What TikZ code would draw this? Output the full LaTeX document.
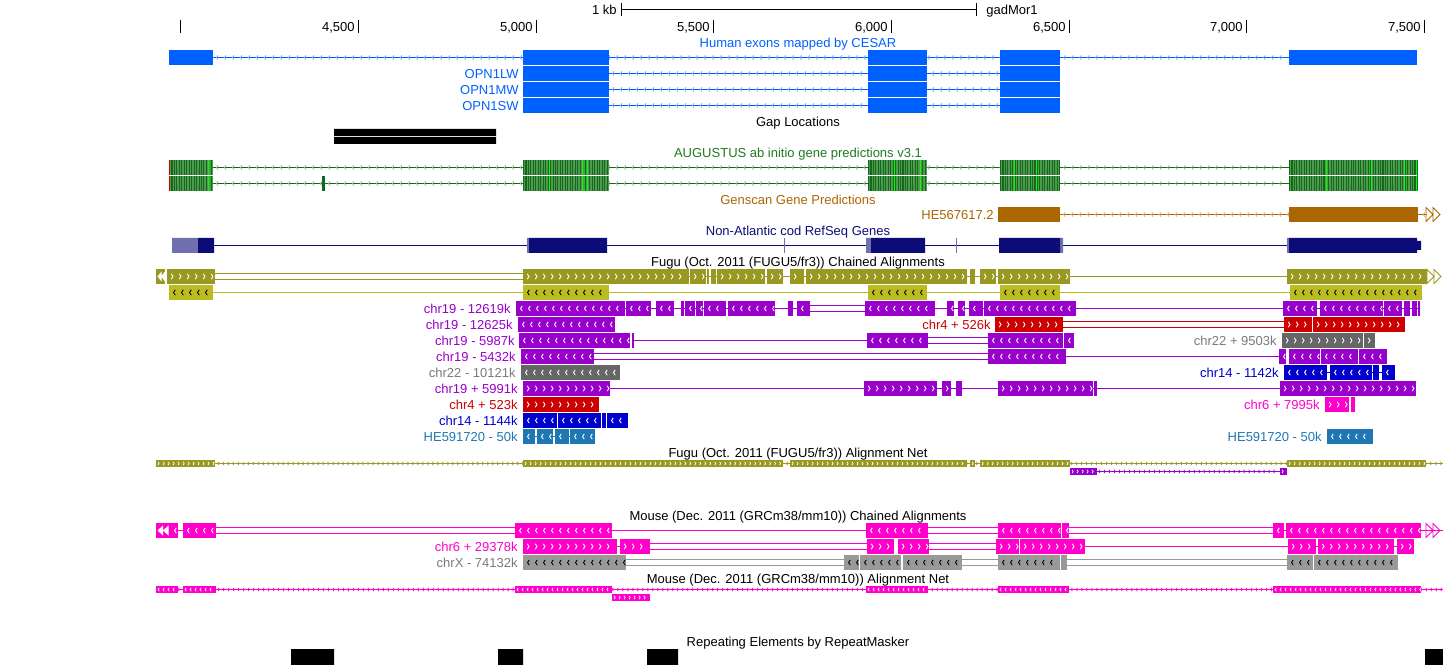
\documentclass[tikz,border=0pt]{standalone}
\usepackage{fontspec}
\setmainfont{Liberation Sans}
\usetikzlibrary{decorations.markings}

\definecolor{KCesar}{HTML}{005FFF}
\definecolor{KCesarLt}{HTML}{7FA8FF}
\definecolor{KAugDark}{HTML}{12691A}
\definecolor{KAugMid}{HTML}{4F9A4F}
\definecolor{KAugHi}{HTML}{00FF00}
\definecolor{KAugLt}{HTML}{8CBF8C}
\definecolor{KAugText}{HTML}{1E7A1E}
\definecolor{KGenscan}{HTML}{AA6600}
\definecolor{KGenscanLt}{HTML}{D9AE74}
\definecolor{KRefSeq}{HTML}{0C0C78}
\definecolor{KRefLilac}{HTML}{7070B0}
\definecolor{KFugu}{HTML}{999922}
\definecolor{KFuguLt}{HTML}{BBBB22}
\definecolor{KPurple}{HTML}{9900CC}
\definecolor{KRed}{HTML}{CC0000}
\definecolor{KGrey}{HTML}{666666}
\definecolor{KGreyLt}{HTML}{999999}
\definecolor{KGreyText}{HTML}{7A7A7A}
\definecolor{KNavy}{HTML}{0000CC}
\definecolor{KMagenta}{HTML}{FF00CC}
\definecolor{KSteel}{HTML}{1F77B4}

\tikzset{
  txt/.style={font=\fontsize{7.4}{8.5}\selectfont,inner sep=0pt,yshift=-2.6pt},
  trk/.style={txt,anchor=base},
  nm/.style={txt,anchor=base east},
  ln/.style={line width=0.55pt},
  inL/.style={postaction={decorate},decoration={markings,
    mark=between positions 2.6pt and -1pt step 4.55pt with
    {\draw[#1,line width=0.5pt] (0.95pt,1.5pt) -- (0,0) -- (0.95pt,-1.5pt);}}},
  inR/.style={postaction={decorate},decoration={markings,
    mark=between positions 3.4pt and -0.3pt step 4.55pt with
    {\draw[#1,line width=0.5pt] (-0.95pt,1.5pt) -- (0,0) -- (-0.95pt,-1.5pt);}}},
  thinL/.style={postaction={decorate},decoration={markings,
    mark=between positions 2pt and -1pt step 4.55pt with
    {\draw[#1,line width=0.45pt] (0.85pt,1.2pt) -- (0,0) -- (0.85pt,-1.2pt);}}},
  netL/.style={postaction={decorate},decoration={markings,
    mark=between positions 1.2pt and -0.6pt step 2.84pt with
    {\draw[#1,line width=0.4pt] (0.65pt,0.95pt) -- (0,0) -- (0.65pt,-0.95pt);}}},
  netR/.style={postaction={decorate},decoration={markings,
    mark=between positions 1.8pt and -0.3pt step 2.84pt with
    {\draw[#1,line width=0.4pt] (-0.65pt,0.95pt) -- (0,0) -- (-0.65pt,-0.95pt);}}},
}

% colour, chevrons, row top, height, list of from/to
\newcommand{\blocks}[5]{%
  \foreach \xa/\xb in {#5}{%
    \fill[#1] (\xa,#3) rectangle (\xb,#3+#4);
    \path[#2] (\xa,#3+#4/2) -- (\xb,#3+#4/2);
  }}
% colour, row top, from, to
\newcommand{\dbl}[4]{%
  \draw[#1,ln] (#3,#2+4.5) -- (#4,#2+4.5) (#3,#2+10.5) -- (#4,#2+10.5);}

\begin{document}
\begin{tikzpicture}[x=0.02cm,y=-0.02cm]
  \useasboundingbox (0,0) rectangle (1443,665);
  % ruler
  \draw[ln] (621,9) -- (976,9) (621,3) -- (621,16) (976,3) -- (976,16);
  \node[nm] (kb) at (617,10) {1 kb};
  \node[txt,anchor=base west] (asm) at (986,10) {gadMor1};
  \draw[ln] (180,20) -- (180,33);
  \foreach \x/\t in {358/{4,500},536/{5,000},713/{5,500},891/{6,000},1069/{6,500},1246/{7,000},1424/{7,500}}{
    \draw[ln] (\x,20) -- (\x,33);
    \node[nm] (tick\x) at (\x-3,27) {\t};
  }

  % human exons (CESAR)
  \node[trk,KCesar] (cesar) at (798,43) {Human exons mapped by CESAR};
  \draw[KCesar,ln,thinL=KCesarLt] (213,57.5) -- (1289,57.5);
  \foreach \r in {73.5,89.5,105.5} \draw[KCesar,ln,thinL=KCesarLt] (609,\r) -- (1000,\r);
  \blocks{KCesar}{}{50}{15}{169/213,523/609,868/927,1000/1060,1289/1417}
  \foreach \t in {66,82,98} {\blocks{KCesar}{}{\t}{15}{523/609,868/927,1000/1060}}
  \node[nm,KCesar] (lw) at (519,73.5) {OPN1LW};
  \node[nm,KCesar] (mw) at (519,89.5) {OPN1MW};
  \node[nm,KCesar] (sw) at (519,105.5) {OPN1SW};

  % gaps
  \node[trk] (gapT) at (798,122) {Gap Locations};
  \fill (334,129) rectangle (496,136) (334,137) rectangle (496,144);

  % augustus
  \node[trk,KAugText] (augT) at (798,153) {AUGUSTUS ab initio gene predictions v3.1};
  \foreach \c in {167.5,183.5} \draw[KAugDark,ln,thinL=KAugLt] (213,\c) -- (1289,\c);
  \foreach \xa/\xb in {169/213,523/609,868/927,1000/1060,1289/1417}{
    \fill[KAugMid] (\xa,160) rectangle (\xb,191);
    \draw[KAugDark,line width=0.62cm,dash pattern=on 0.6pt off 0.8pt] (\xa,175.5) -- (\xb,175.5);
  }
  \foreach \x in {208,549,582,587,894,920,1014,1036,1326,1371,1404,1416}
    \draw[KAugHi,line width=0.5pt] (\x,160) -- (\x,191);
  \draw[red!80!black,line width=0.5pt] (169.5,160) -- (169.5,191);
  \foreach \xa/\xb in {169/213,523/609,868/927,1000/1060,1289/1417}
    \fill[white] (\xa,175) rectangle (\xb,176);
  \fill[KAugDark] (322,176) rectangle (325,191);

  % genscan
  \node[trk,KGenscan] (gsT) at (798,200) {Genscan Gene Predictions};
  \node[nm,KGenscan] (gsN) at (994,214.5) {HE567617.2};
  \draw[KGenscan,ln,thinL=KGenscanLt] (1060,214.5) -- (1427,214.5);
  \blocks{KGenscan}{}{207}{15}{998/1060,1289/1418}
  \draw[KGenscan,line width=0.5pt] (1426,207.5) -- (1433,214.5) -- (1426,221.5) -- cycle
    (1433,207.5) -- (1440,214.5) -- (1433,221.5) -- cycle;

  % refseq
  \node[trk,KRefSeq] (rsT) at (798,231) {Non-Atlantic cod RefSeq Genes};
  \draw[KRefSeq,ln] (214,245.5) -- (1417,245.5);
  \fill[KRefLilac] (172,238) rectangle (198,253) (527,238) rectangle (529,253)
    (866,238) rectangle (871,253) (1060,238) rectangle (1063,253) (1287,238) rectangle (1289,253);
  \fill[KRefSeq] (198,238) rectangle (214,253) (529,238) rectangle (607,253)
    (871,238) rectangle (925,253) (999,238) rectangle (1060,253)
    (1289,238) rectangle (1417,253) (1417,241) rectangle (1421,250);
  \draw[KRefLilac,line width=0.5pt] (784,238) -- (784,253) (956.5,238) -- (956.5,253);

  % fugu chains
  \node[trk] (fcT) at (798,262) {Fugu (Oct. 2011 (FUGU5/fr3)) Chained Alignments};
  \dbl{KFugu}{269}{215}{523}
  \draw[KFugu,ln] (523,276.5) -- (1427,276.5);
  \fill[KFugu] (156,269) rectangle (165,284);
  \fill[white] (157.5,276.5) -- (161.5,271.5) -- (161.5,281.5) -- cycle
    (161,276.5) -- (165,271.5) -- (165,281.5) -- cycle;
  \blocks{KFugu}{inR=white}{269}{15}{167/215,523/689,690/706,707/709,711/716,717/765,767/783,790/804,806/967,970/975,980/996,998/1070,1287/1427}
  \draw[KFugu,line width=0.5pt] (1427,269.5) -- (1434,276.5) -- (1427,283.5) -- cycle
    (1434,269.5) -- (1441,276.5) -- (1434,283.5) -- cycle;
  \draw[KFuguLt,ln] (213,292.5) -- (1290,292.5);
  \blocks{KFuguLt}{inL=black}{285}{15}{169/213,523/609,868/927,1000/1060,1290/1422}

  \draw[KPurple,ln] (516,308.5) -- (810,308.5) (865,308.5) -- (1420,308.5);
  \dbl{KPurple}{301}{810}{865}
  \blocks{KPurple}{inL=white}{301}{15}{516/625,626/651,656/674,681/684,685/695,696/703,704/726,728/775,788/793,797/810,865/935,947/954,958/965,969/983,984/1076,1283/1317,1320/1383,1384/1402,1404/1410,1412/1417,1418/1420}
  \node[nm,KPurple] (c19a) at (511,308.5) {chr19 - 12619k};

  \blocks{KPurple}{inL=white}{317}{15}{518/615}
  \node[nm,KPurple] (c19b) at (513,324.5) {chr19 - 12625k};
  \dbl{KRed}{317}{1063}{1284}
  \blocks{KRed}{inR=white}{317}{15}{995/1063,1284/1312,1313/1405}
  \node[nm,KRed] (c4a) at (991,324.5) {chr4 + 526k};

  \draw[KPurple,ln] (634,340.5) -- (867,340.5);
  \dbl{KPurple}{333}{928}{988}
  \blocks{KPurple}{inL=white}{333}{15}{519/630,632/634,867/928,988/1063,1064/1074}
  \node[nm,KPurple] (c19c) at (515,340.5) {chr19 - 5987k};
  \blocks{KGrey}{inR=white}{333}{15}{1282/1363,1364/1375}
  \node[nm,KGreyText] (c22a) at (1277,340.5) {chr22 + 9503k};

  \dbl{KPurple}{349}{594}{988}
  \draw[KPurple,ln] (1066,356.5) -- (1279,356.5);
  \blocks{KPurple}{inL=white}{349}{15}{521/594,988/1066,1279/1286,1289/1320,1321/1358,1359/1387}
  \node[nm,KPurple] (c19d) at (516,356.5) {chr19 - 5432k};

  \blocks{KGrey}{inL=white}{365}{15}{521/620}
  \node[nm,KGreyText] (c22b) at (516,372.5) {chr22 - 10121k};
  \draw[KNavy,ln] (1284,372.5) -- (1395,372.5);
  \blocks{KNavy}{inL=white}{365}{15}{1284/1327,1330/1372,1373/1379,1382/1395}
  \node[nm,KNavy] (c14a) at (1279,372.5) {chr14 - 1142k};

  \draw[KPurple,ln] (610,388.5) -- (1280,388.5);
  \blocks{KPurple}{inR=white}{381}{15}{523/610,864/937,942/951,956/962,998/1093,1094/1097,1280/1416}
  \node[nm,KPurple] (c19e) at (518,388.5) {chr19 + 5991k};

  \blocks{KRed}{inR=white}{397}{15}{523/599}
  \node[nm,KRed] (c4b) at (518,404.5) {chr4 + 523k};
  \blocks{KMagenta}{inR=white}{397}{15}{1325/1349,1351/1355}
  \node[nm,KMagenta] (c6a) at (1320,404.5) {chr6 + 7995k};

  \blocks{KNavy}{inL=white}{413}{15}{523/557,558/601,602/606,607/628}
  \node[nm,KNavy] (c14b) at (518,420.5) {chr14 - 1144k};

  \draw[KSteel,ln] (523,436.5) -- (595,436.5);
  \blocks{KSteel}{inL=white}{429}{15}{523/535,537/553,555/569,570/595,1327/1373}
  \node[nm,KSteel] (heA) at (518,436.5) {HE591720 - 50k};
  \node[nm,KSteel] (heB) at (1322,436.5) {HE591720 - 50k};

  % fugu net
  \node[trk] (fnT) at (798,453) {Fugu (Oct. 2011 (FUGU5/fr3)) Alignment Net};
  \draw[KFugu,line width=0.45pt,netR=KFugu] (156,463.5) -- (1443,463.5);
  \blocks{KFugu}{netR=white}{460}{7}{156/215,523/783,790/967,970/975,980/1070,1287/1426}
  \draw[KPurple,line width=0.45pt,netR=KPurple] (1097,471.5) -- (1280,471.5);
  \blocks{KPurple}{netR=white}{468}{7}{1070/1097,1280/1287}

  % mouse chains
  \node[trk] (mcT) at (798,516) {Mouse (Dec. 2011 (GRCm38/mm10)) Chained Alignments};
  \draw[KMagenta,ln] (178,530.5) -- (183,530.5) (612,530.5) -- (866,530.5)
    (1284,530.5) -- (1286,530.5) (1421,530.5) -- (1443,530.5);
  \dbl{KMagenta}{523}{216}{515}
  \dbl{KMagenta}{523}{928}{998}
  \dbl{KMagenta}{523}{1069}{1273}
  \fill[KMagenta] (156,523) rectangle (178,538);
  \fill[white] (157.5,530.5) -- (163,525.5) -- (163,535.5) -- cycle
    (163,530.5) -- (168.5,525.5) -- (168.5,535.5) -- cycle;
  \path[inL=white] (170,530.5) -- (178,530.5);
  \blocks{KMagenta}{inL=white}{523}{15}{183/216,515/612,866/928,998/1061,1062/1069,1273/1284,1286/1421}
  \draw[KMagenta,line width=0.5pt] (1426,523.5) -- (1433,530.5) -- (1426,537.5) -- cycle
    (1433,523.5) -- (1440,530.5) -- (1433,537.5) -- cycle;

  \draw[KMagenta,ln] (617,546.5) -- (620,546.5) (1085,546.5) -- (1397,546.5);
  \dbl{KMagenta}{539}{650}{867}
  \dbl{KMagenta}{539}{929}{996}
  \blocks{KMagenta}{inR=white}{539}{15}{523/617,620/650,867/894,898/929,996/1019,1020/1085,1288/1316,1318/1394,1397/1414}
  \node[nm,KMagenta] (m6) at (518,546.5) {chr6 + 29378k};

  \dbl{KGreyLt}{555}{626}{844}
  \dbl{KGreyLt}{555}{962}{998}
  \dbl{KGreyLt}{555}{1067}{1287}
  \blocks{KGreyLt}{inL=black}{555}{15}{523/626,844/859,860/901,903/962,998/1060,1061/1067,1287/1313,1314/1398}
  \node[nm,KGreyText] (mX) at (518,562.5) {chrX - 74132k};

  % mouse net
  \node[trk] (mnT) at (798,579) {Mouse (Dec. 2011 (GRCm38/mm10)) Alignment Net};
  \draw[KMagenta,line width=0.45pt,netL=KMagenta] (156,589.5) -- (1443,589.5);
  \blocks{KMagenta}{netL=white}{586}{7}{156/178,183/216,515/612,866/928,998/1069,1273/1421}
  \blocks{KMagenta}{netR=white}{594}{7}{612/650}

  % repeats
  \node[trk] (rmT) at (798,642) {Repeating Elements by RepeatMasker};
  \fill (291,649) rectangle (334,665) (498,649) rectangle (523,665)
    (647,649) rectangle (678,665) (1425,649) rectangle (1443,665);
\end{tikzpicture}
\end{document}
